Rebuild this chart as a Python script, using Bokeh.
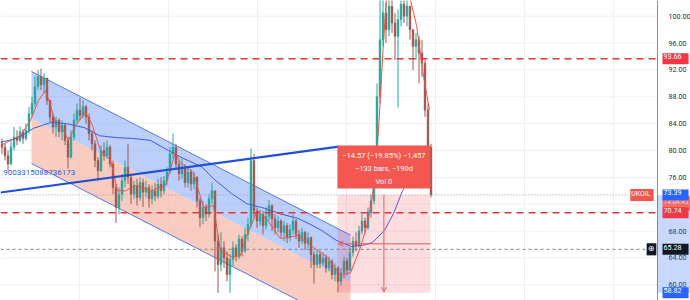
from bokeh.plotting import figure
from bokeh.models import (Range1d, FixedTicker, NumeralTickFormatter, Label, LinearAxis,
                          Arrow, OpenHead, BoxAnnotation, ColumnDataSource)
from bokeh.embed import file_html
from bokeh.resources import INLINE

# ---------------- data ----------------
price_ticks = [60, 64, 68, 72, 76, 80, 84, 88, 92, 96, 100]
time_grid = [26.3, 56.0, 85.7, 115.3, 145.0, 174.7, 204.3]   # bar index of vertical grid lines

first_open = 81.0
closes = [80.5, 79.2, 78.0, 80.5, 82.0, 81.5, 82.8, 81.8, 83.0, 85.5,
          87.0, 89.5, 91.0, 89.8, 90.8, 87.5, 85.0, 83.5, 84.5, 82.8,
          83.8, 81.5, 79.0, 82.0, 84.5, 86.0, 85.2, 86.5, 85.0, 82.5,
          81.0, 78.5, 77.0, 80.0, 79.2, 80.5, 78.0, 74.5, 71.5, 73.5,
          75.5, 77.5, 76.0, 73.5, 74.8, 73.0, 75.2, 73.8, 74.5, 72.8,
          74.0, 73.2, 75.0, 74.0, 75.5, 76.8, 79.5, 80.5, 78.0, 76.5,
          77.5, 75.2, 76.8, 75.0, 76.0, 72.5, 70.0, 71.5, 70.5, 72.8,
          74.0, 66.5, 63.0, 65.5, 64.0, 61.5, 63.8, 65.5, 64.2, 66.8,
          65.0, 67.5, 69.0, 78.5, 71.0, 69.5, 70.5, 68.8, 70.2, 71.8,
          69.8, 68.5, 69.5, 67.8, 68.8, 67.0, 68.2, 69.5, 67.5, 66.5,
          67.8, 66.2, 67.0, 64.5, 63.0, 64.5, 63.2, 64.0, 62.5, 63.5,
          61.5, 62.5, 60.5, 61.8, 63.5, 62.2, 64.8, 66.5, 65.8, 68.0,
          69.5, 68.5, 70.8, 72.5, 78.0, 88.0, 96.5, 100.5, 98.0, 101.5,
          99.0, 97.0, 99.5, 101.8, 100.0, 101.5, 98.0, 95.5, 96.5, 94.5,
          93.0, 86.0, 80.5, 73.39]
highs = [81.8, 81.0, 80.0, 81.5, 83.5, 83.0, 83.6, 83.2, 84.0, 86.5,
         88.0, 91.0, 92.0, 92.2, 91.5, 90.0, 87.5, 85.5, 85.0, 84.8,
         84.5, 84.0, 82.0, 83.0, 85.5, 87.0, 87.8, 87.5, 86.8, 85.5,
         83.0, 81.5, 79.0, 80.8, 81.2, 81.5, 80.8, 78.5, 75.0, 74.5,
         76.5, 78.5, 81.0, 76.5, 75.5, 75.8, 76.0, 75.8, 75.5, 75.0,
         74.8, 75.2, 75.8, 76.0, 76.2, 77.5, 80.5, 82.5, 81.0, 78.5,
         78.8, 78.0, 77.5, 77.2, 76.8, 76.2, 73.0, 72.5, 72.0, 73.5,
         75.2, 74.0, 67.5, 67.8, 66.5, 65.0, 64.5, 66.5, 66.0, 67.5,
         67.2, 68.5, 70.0, 80.3, 79.5, 71.5, 71.2, 71.0, 71.5, 72.6,
         72.0, 70.5, 70.2, 69.8, 69.5, 69.2, 69.0, 70.5, 69.8, 68.2,
         68.5, 68.0, 67.8, 67.2, 65.0, 65.2, 65.0, 64.8, 64.5, 64.2,
         63.8, 63.2, 62.8, 62.5, 64.2, 64.0, 65.6, 67.2, 67.8, 68.8,
         70.5, 70.0, 71.5, 73.5, 80.5, 90.0, 102.5, 103.5, 102.0, 103.0,
         102.5, 100.5, 101.0, 103.5, 103.0, 102.8, 101.0, 98.0, 97.5, 97.0,
         96.5, 93.5, 87.0, 81.0]
lows = [79.5, 78.5, 77.0, 77.8, 80.0, 80.8, 81.2, 81.0, 81.5, 82.5,
        85.0, 86.5, 89.0, 89.0, 88.5, 86.8, 84.2, 82.5, 82.0, 82.0,
        81.5, 80.8, 77.3, 78.8, 81.5, 84.0, 84.5, 84.8, 84.0, 81.5,
        80.0, 77.5, 75.5, 76.8, 78.5, 78.8, 77.5, 73.5, 69.2, 70.5,
        72.5, 74.5, 75.0, 72.0, 72.8, 71.8, 72.5, 71.6, 73.0, 71.5,
        72.0, 72.5, 72.8, 73.0, 73.5, 74.8, 76.5, 78.8, 77.2, 75.5,
        75.8, 74.5, 74.5, 74.0, 74.2, 71.5, 68.6, 69.0, 69.5, 70.0,
        72.0, 62.0, 58.8, 62.0, 62.5, 60.5, 58.8, 62.8, 63.5, 63.8,
        64.2, 64.8, 66.5, 68.5, 70.0, 68.5, 68.8, 67.5, 68.2, 69.5,
        68.0, 67.5, 67.8, 67.0, 66.5, 66.2, 66.5, 67.5, 66.8, 65.5,
        66.0, 65.2, 65.5, 62.5, 60.2, 62.5, 62.5, 62.8, 61.8, 62.0,
        60.8, 60.5, 58.9, 59.8, 61.0, 61.5, 62.0, 64.2, 65.0, 65.5,
        67.5, 67.8, 68.2, 70.0, 72.0, 77.5, 87.0, 95.5, 96.0, 97.0,
        97.5, 93.5, 86.4, 98.5, 99.0, 98.5, 96.5, 92.0, 93.5, 90.0,
        91.0, 85.0, 79.5, 73.0]

# slow moving average (blue) read at some bars
slow_x = [0, 6, 11, 17, 22, 28, 33, 39, 44, 50, 56, 61, 67, 71, 77, 82, 88, 93,
          99, 102, 107, 112, 117, 121, 124, 128, 131, 134, 138, 143]
slow_y = [81.2, 81.9, 83.3, 84.2, 84.0, 83.4, 82.2, 81.9, 81.8, 81.5, 80.0, 78.8,
          77.6, 75.8, 73.6, 72.1, 71.4, 70.6, 69.9, 69.3, 68.1, 66.6, 65.7, 65.9,
          66.3, 68.1, 70.6, 74.0, 76.7, 78.8]
# fast moving average (red)
fast_x = [0, 3.3, 6.7, 10, 12.7, 15, 16.7, 18.3, 20.7, 22.7, 25, 28.3, 30.7, 33.3,
          36.7, 39, 41.7, 45, 50, 55, 58.3, 60, 64.3, 67.7, 71, 73.3, 77.3, 80,
          82.3, 85.7, 89, 93.3, 99, 104.3, 109, 113.3, 116.7, 120, 122.3, 124,
          126, 127.7, 129, 134, 136.7, 138.7, 140.7, 143]
fast_y = [80.7, 81.5, 82.2, 84.5, 87.5, 88.9, 86.7, 84.2, 83.3, 81.5, 83.7, 85.7,
          83.7, 80.0, 78.5, 74.0, 74.0, 74.8, 74.0, 74.8, 79.7, 78.2, 76.7, 71.5,
          71.8, 65.1, 64.1, 64.4, 67.6, 71.1, 69.6, 66.9, 67.3, 65.6, 64.1, 61.4,
          61.8, 65.6, 69.1, 73.3, 83.0, 96.4, 105.0, 105.0, 102.3, 98.6, 91.9, 86.0]

# parallel channel (bar index / price)
chan_x = [10.33, 116.67]
chan_upper = [91.77, 67.40]
chan_mid = [84.77, 60.38]
chan_lower = [78.06, 53.70]
# trend line
trend_x = [0, 112.7]
trend_y = [73.74, 80.59]
trend_label = ".9003315088736173"

# horizontal levels
red_levels = [93.66, 70.74]
cross_level = 65.28
last_price = 73.39
measure_low = 58.82
measure_bars = [112.3, 143.3]
measure_lines = ["\u221214.57 (\u221219.85%) \u22121,457", "\u2212133 bars, \u2212190d", "Vol 0"]
clock_text = "14:04:43"
symbol = "UKOIL"

# ---------------- figure ----------------
Y0, Y1 = 57.66, 102.34
PXU = 300 / (Y1 - Y0)
AX = 219.0          # bar coordinate of the price-scale line (x = 657 px)


def py(pix):
    return Y1 - pix / PXU


FONT = "Roboto"
RED = "#f23645"
BLUE = "#2962ff"
UP = "#26a69a"
DOWN = "#9c5850"
GRID = "#eceef2"

p = figure(width=690, height=300, output_backend="svg", toolbar_location=None,
           x_range=Range1d(0, 230), y_range=Range1d(Y0, Y1),
           x_axis_location=None, y_axis_location=None,
           min_border_left=0, min_border_right=0, min_border_top=0, min_border_bottom=0)
p.outline_line_color = None
p.background_fill_color = "white"
p.xgrid.visible = False
p.ygrid.visible = False

# grid lines (only over the chart pane)
p.segment(x0=[0] * len(price_ticks), x1=[AX] * len(price_ticks), y0=price_ticks, y1=price_ticks,
          line_color=GRID, line_width=1)
p.segment(x0=time_grid, x1=time_grid, y0=[Y0] * len(time_grid), y1=[Y1] * len(time_grid),
          line_color=GRID, line_width=1)

# price scale drawn at a fixed location inside the canvas
ax = LinearAxis(fixed_location=AX, ticker=FixedTicker(ticks=price_ticks),
                formatter=NumeralTickFormatter(format="0.00"))
ax.major_label_text_font = FONT
ax.major_label_text_font_size = "7.2px"
ax.major_label_text_color = "#2a2e39"
ax.major_label_standoff = 5
ax.major_tick_line_color = None
ax.minor_tick_line_color = None
ax.axis_line_color = "#8a8d96"
p.add_layout(ax, "right")

# channel
p.varea(x=chan_x, y1=chan_mid, y2=chan_upper, fill_color="#8fadf7", fill_alpha=0.6)
p.varea(x=chan_x, y1=chan_lower, y2=chan_mid, fill_color="#f6b9ab", fill_alpha=0.72)
p.line(chan_x, chan_upper, line_color="#5577e6", line_width=1)
p.line(chan_x, chan_lower, line_color="#5577e6", line_width=1)

# candles
opens = [first_open] + closes[:-1]
xs = [i + 0.5 for i in range(len(closes))]
cols = [UP if c >= o else DOWN for o, c in zip(opens, closes)]
src = ColumnDataSource(dict(
    x=xs, top=[max(o, c) for o, c in zip(opens, closes)],
    bottom=[min(o, c) for o, c in zip(opens, closes)],
    h=[max(h, o, c) for h, o, c in zip(highs, opens, closes)],
    l=[min(l, o, c) for l, o, c in zip(lows, opens, closes)], col=cols))
p.segment(x0="x", x1="x", y0="l", y1="h", line_color="col", line_width=1, source=src)
p.vbar(x="x", width=0.6, top="top", bottom="bottom", fill_color="col",
       line_color="col", line_width=0.5, source=src)

# moving averages
p.line(slow_x, slow_y, line_color="#3f5bd4", line_width=1)
p.line(fast_x, fast_y, line_color="#ef5247", line_width=1)

# horizontal levels
p.segment(x0=[0, 0], x1=[AX, AX], y0=red_levels, y1=red_levels,
          line_color="#e0363a", line_dash="7 5", line_width=1.5)
p.segment(x0=[0], x1=[215.3], y0=[cross_level], y1=[cross_level],
          line_color="#80838c", line_dash="3 3", line_width=1)
p.segment(x0=[0], x1=[212], y0=[last_price], y1=[last_price],
          line_color="#9a9ca4", line_dash="1 2", line_width=1)

# trend line and its label
p.line(trend_x, trend_y, line_color="#1f4fd6", line_width=2.2)
p.add_layout(Label(x=0.2, y=py(172), text=trend_label, text_font=FONT, text_font_size="8px",
                   text_color="#2f5bd9", text_baseline="middle", text_align="left"))

# measurement box
p.quad(left=[measure_bars[0]], right=[measure_bars[1]], bottom=[measure_low], top=[last_price],
       fill_color=RED, fill_alpha=0.17, line_color=None)
mid_x = (measure_bars[0] + measure_bars[1]) / 2
mid_y = (measure_low + last_price) / 2
p.add_layout(Arrow(end=OpenHead(size=5, line_color="#e2605a", line_width=1),
                   x_start=measure_bars[1], y_start=mid_y, x_end=measure_bars[0] + 0.3, y_end=mid_y,
                   line_color="#e2605a", line_width=1))
p.add_layout(Arrow(end=OpenHead(size=5, line_color="#e2605a", line_width=1),
                   x_start=mid_x, y_start=last_price, x_end=mid_x, y_end=measure_low + 0.1,
                   line_color="#e2605a", line_width=1))
p.quad(left=[measure_bars[0]], right=[measure_bars[1]], bottom=[py(188)], top=[py(145)],
       fill_color="#f4574f", line_color=None)
for k, t in enumerate(measure_lines):
    p.add_layout(Label(x=mid_x, y=py(155 + 13 * k), text=t, text_font=FONT, text_font_size="7.5px",
                       text_color="white", text_align="center", text_baseline="middle"))

# axis-side block and price tags
p.add_layout(BoxAnnotation(left=AX, right=230, bottom=measure_low, top=last_price,
                           fill_color=BLUE, fill_alpha=0.25, line_color=None))
tags = [(f"{red_levels[0]:.2f}", red_levels[0], RED, "white", "7.2px", 7),
        (clock_text, py(203), "#f26d63", "#ffd8d2", "6.5px", 2),
        (f"{last_price:.2f}", last_price, BLUE, "white", "7.2px", 7),
        (f"{red_levels[1]:.2f}", red_levels[1], RED, "white", "7.2px", 7),
        (f"{cross_level:.2f}", cross_level, "#131722", "white", "7.2px", 7),
        (f"{measure_low:.2f}", measure_low, BLUE, "white", "7.2px", 7)]
for t, yv, bg, fg, fs, pr in tags:
    p.add_layout(Label(x=220.67, y=yv, text=t, text_font=FONT, text_font_size=fs,
                       text_color=fg, text_align="left", text_baseline="middle",
                       background_fill_color=bg, padding=(1, pr, 1, 5)))
p.add_layout(Label(x=217.7, y=last_price, text=symbol, text_font=FONT, text_font_size="7px",
                   text_color="white", text_align="right", text_baseline="middle",
                   background_fill_color="#f0564e", padding=(1, 3, 1, 3)))
p.add_layout(Label(x=217.0, y=cross_level, text="\u2295", text_font="DejaVu Sans", text_font_size="8px",
                   text_color="white", text_align="center", text_baseline="middle",
                   background_fill_color="#131722", padding=(1, 2, 1, 2)))

open("out.html", "w").write(file_html(p, INLINE))
